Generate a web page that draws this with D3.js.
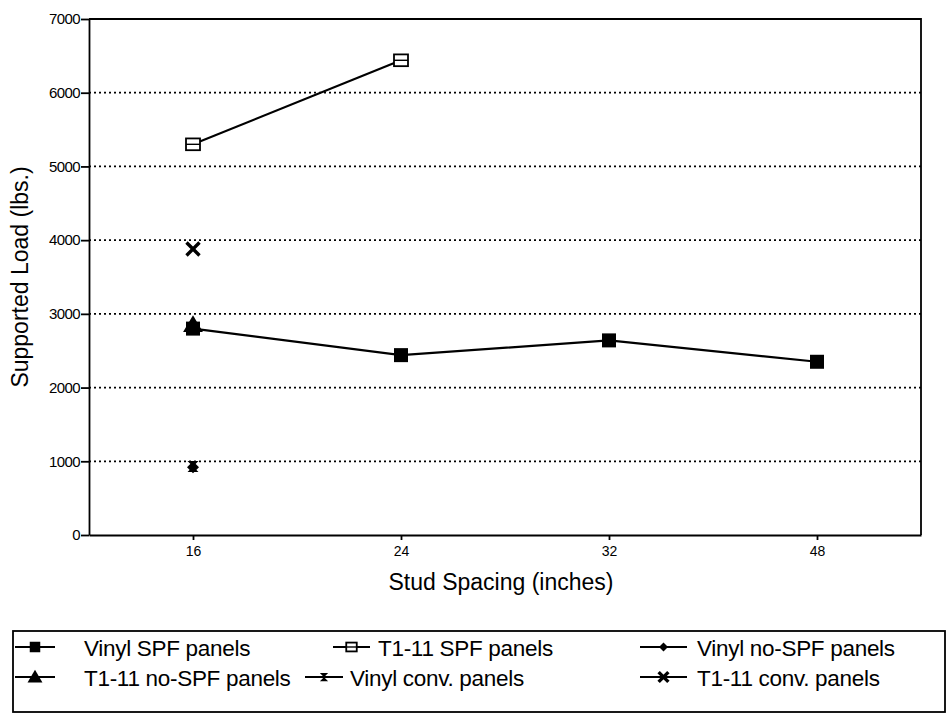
<!DOCTYPE html>
<html lang="en">
<head>
    <meta charset="UTF-8">
    <title>Supported Load vs Stud Spacing</title>
    <script src="https://d3js.org/d3.v7.min.js"></script>
    <style>
        body { margin: 0; background: #fff; }
        svg { display: block; font-family: "Liberation Sans", Arial, sans-serif; }
    </style>
</head>
<body>
    <svg></svg>

    <script>
        // data
        const spacings = ['16', '24', '32', '48'];
        const yTicks = [0, 1000, 2000, 3000, 4000, 5000, 6000, 7000];

        const vinylSpf = [2800, 2440, 2640, 2350];
        const t111Spf = [5300, 6440];
        const vinylNoSpf = [920];
        const t111NoSpf = [2850];
        const vinylConv = [930];
        const t111Conv = [3880];

        const seriesNames = ['Vinyl SPF panels', 'T1-11 SPF panels', 'Vinyl no-SPF panels',
                             'T1-11 no-SPF panels', 'Vinyl conv. panels', 'T1-11 conv. panels'];
        const seriesValues = [vinylSpf, t111Spf, vinylNoSpf, t111NoSpf, vinylConv, t111Conv];
        const markers = ['square', 'open', 'diamond', 'triangle', 'bowtie', 'cross'];

        const width = 951;
        const height = 717;
        const margin = {top: 19, right: 30, bottom: 182, left: 89};

        const svg = d3.select('svg')
            .attr('width', width)
            .attr('height', height)
            .attr('viewBox', [0, 0, width, height]);

        const x = d3.scalePoint()
            .domain(spacings)
            .range([margin.left, width - margin.right])
            .padding(0.5);

        const y = d3.scaleLinear()
            .domain([0, 7000])
            .range([height - margin.bottom, margin.top]);

        // dotted grid
        svg.append('g')
            .selectAll('line')
            .data(yTicks.filter(d => d > 0 && d < 7000))
            .join('line')
            .attr('x1', margin.left)
            .attr('x2', width - margin.right)
            .attr('y1', d => y(d))
            .attr('y2', d => y(d))
            .attr('stroke', '#000')
            .attr('stroke-width', 1.8)
            .attr('stroke-dasharray', '2,3');

        // frame: top and right
        svg.append('path')
            .attr('d', `M${margin.left},${y(7000)}H${width - margin.right}V${y(0)}`)
            .attr('fill', 'none')
            .attr('stroke', '#000')
            .attr('stroke-width', 1.8);

        const yAxis = svg.append('g')
            .attr('transform', `translate(${margin.left},0)`)
            .call(d3.axisLeft(y).tickValues(yTicks).tickFormat(d3.format('d'))
                .tickSize(8).tickPadding(1).tickSizeOuter(0));
        yAxis.selectAll('text').attr('font-size', 15).attr('fill', '#000')
            .attr('letter-spacing', '-0.6');
        yAxis.selectAll('line, path').attr('stroke', '#000').attr('stroke-width', 1.8);

        const xAxis = svg.append('g')
            .attr('transform', `translate(0,${y(0)})`)
            .call(d3.axisBottom(x).tickSize(5).tickPadding(6).tickSizeOuter(0));
        xAxis.selectAll('text').attr('font-size', 14).attr('fill', '#000');
        xAxis.selectAll('line, path').attr('stroke', '#000').attr('stroke-width', 1.8);

        // axis titles
        svg.append('text')
            .attr('x', 501)
            .attr('y', 590)
            .attr('text-anchor', 'middle')
            .attr('font-size', 23)
            .text('Stud Spacing (inches)');

        svg.append('text')
            .attr('transform', `translate(28,${(y(0) + y(7000)) / 2}) rotate(-90)`)
            .attr('text-anchor', 'middle')
            .attr('font-size', 23)
            .text('Supported Load (lbs.)');

        // marker drawing
        function drawMarker(g, type, cx, cy, s) {
            if (type === 'square') {
                g.append('rect').attr('x', cx - s / 2).attr('y', cy - s / 2)
                    .attr('width', s).attr('height', s).attr('fill', '#000');
            } else if (type === 'open') {
                g.append('rect').attr('x', cx - s / 2).attr('y', cy - s * 0.42)
                    .attr('width', s).attr('height', s * 0.84)
                    .attr('fill', '#fff').attr('stroke', '#000').attr('stroke-width', 1.8);
                g.append('line').attr('x1', cx - s / 2).attr('x2', cx + s / 2)
                    .attr('y1', cy).attr('y2', cy).attr('stroke', '#000').attr('stroke-width', 1.4);
            } else if (type === 'diamond') {
                g.append('path')
                    .attr('d', `M${cx},${cy - s / 2}L${cx + s / 2},${cy}L${cx},${cy + s / 2}L${cx - s / 2},${cy}Z`)
                    .attr('fill', '#000');
            } else if (type === 'triangle') {
                g.append('path')
                    .attr('d', `M${cx},${cy - s * 0.6}L${cx + s * 0.62},${cy + s * 0.45}L${cx - s * 0.62},${cy + s * 0.45}Z`)
                    .attr('fill', '#000');
            } else if (type === 'bowtie') {
                g.append('path')
                    .attr('d', `M${cx - s / 2},${cy - s / 2}L${cx + s / 2},${cy - s / 2}L${cx - s / 2},${cy + s / 2}L${cx + s / 2},${cy + s / 2}Z`)
                    .attr('fill', '#000');
            } else if (type === 'cross') {
                g.append('path')
                    .attr('d', `M${cx - s / 2},${cy - s / 2}L${cx + s / 2},${cy + s / 2}M${cx + s / 2},${cy - s / 2}L${cx - s / 2},${cy + s / 2}`)
                    .attr('stroke', '#000').attr('stroke-width', 3.4);
            }
        }

        const line = d3.line()
            .x(d => x(d.x))
            .y(d => y(d.y));

        const markerSize = [14, 14, 12, 16, 11, 13];

        seriesValues.forEach((vals, i) => {
            const pts = vals.map((v, j) => ({x: spacings[j], y: v}));
            const g = svg.append('g');
            if (pts.length > 1) {
                g.append('path')
                    .datum(pts)
                    .attr('d', line)
                    .attr('fill', 'none')
                    .attr('stroke', '#000')
                    .attr('stroke-width', 2.2);
            }
            pts.forEach(p => drawMarker(g, markers[i], x(p.x), y(p.y), markerSize[i]));
        });

        // legend
        const legend = svg.append('g');
        legend.append('rect')
            .attr('x', 13).attr('y', 631)
            .attr('width', 932).attr('height', 81)
            .attr('fill', 'none').attr('stroke', '#000').attr('stroke-width', 1.8);

        const legendPos = [
            {sx: 15, tx: 84, row: 0}, {sx: 333, tx: 378, row: 0}, {sx: 640, tx: 697, row: 0},
            {sx: 15, tx: 84, row: 1}, {sx: 305, tx: 350, row: 1}, {sx: 640, tx: 697, row: 1}
        ];
        const legendSymW = [40, 37, 47, 40, 38, 47];

        seriesNames.forEach((name, i) => {
            const p = legendPos[i];
            const ly = 647 + p.row * 30;
            const g = legend.append('g');
            g.append('line')
                .attr('x1', p.sx).attr('x2', p.sx + legendSymW[i])
                .attr('y1', ly).attr('y2', ly)
                .attr('stroke', '#000').attr('stroke-width', 2);
            drawMarker(g, markers[i], p.sx + legendSymW[i] / 2, ly, markerSize[i] * 0.75);
            g.append('text')
                .attr('x', p.tx).attr('y', ly + 9)
                .attr('font-size', 22.5)
                .attr('letter-spacing', '-0.3')
                .text(name);
        });
    </script>
</body>
</html>
